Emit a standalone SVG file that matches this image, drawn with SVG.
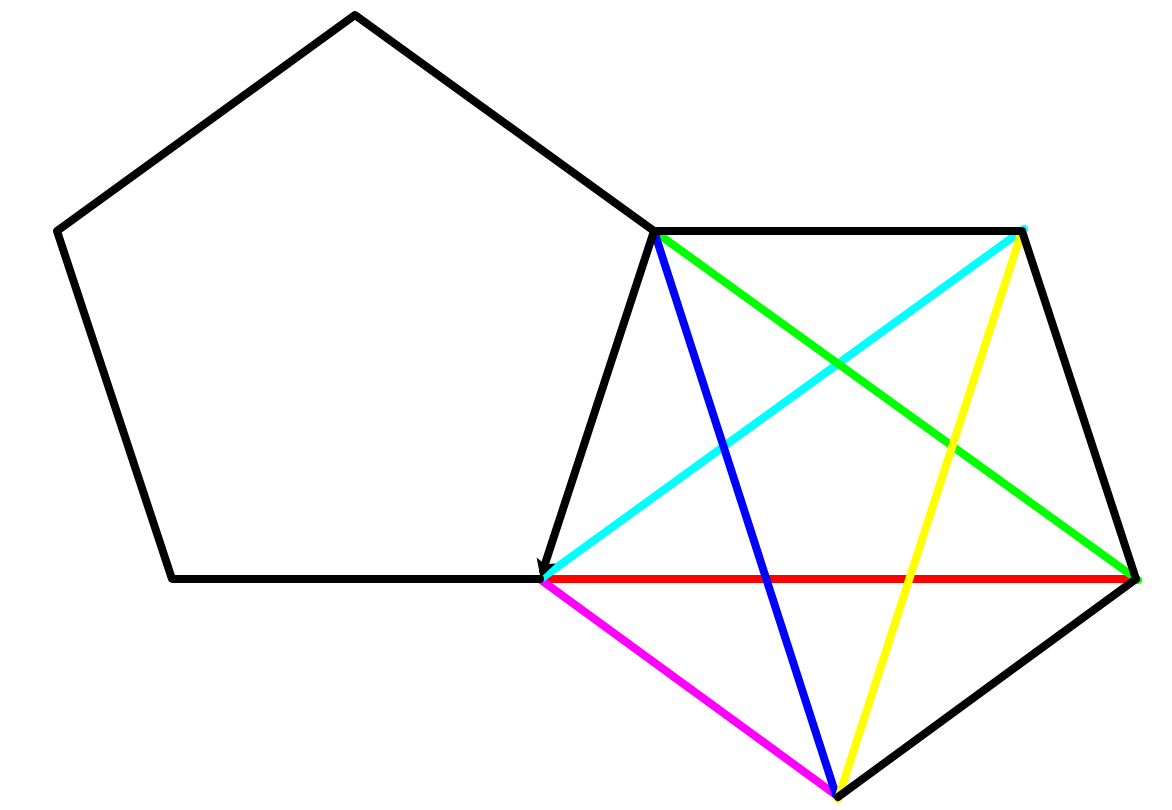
<svg xmlns="http://www.w3.org/2000/svg" width="1172" height="810" viewBox="0 0 1172 810">
<style>
.e{fill:none;stroke-width:8;stroke-linecap:round;stroke-linejoin:round}
.k{stroke:#000}
</style>
<defs>
<marker id="arr" markerUnits="userSpaceOnUse" orient="auto" markerWidth="30" markerHeight="30" refX="2" refY="0" viewBox="-20 -15 30 30" overflow="visible">
<path d="M10,0 L-8,-10 L-4,0 L-8,10 Z" fill="#000"/>
</marker>
</defs>
<rect width="1172" height="810" fill="#fff"/>
<g id="connectors">
<line id="red" class="e" stroke="#ff0000" x1="545" y1="579" x2="1132" y2="579"/>
<line id="magenta" class="e" stroke="#ff00ff" x1="541" y1="580" x2="836" y2="795"/>
<line id="cyan" class="e" stroke="#00ffff" x1="542" y1="578" x2="1024" y2="229"/>
<line id="green" class="e" stroke="#00ff00" x1="654" y1="231" x2="1138" y2="580"/>
<line id="blue" class="e" stroke="#0000ff" x1="654" y1="231" x2="836" y2="795"/>
<line id="yellow" class="e" stroke="#ffff00" x1="1021" y1="234" x2="838" y2="799"/>
</g>
<g id="left-pentagon">
<polyline class="e k" points="540,579 172,579 57,231 355,15 654,231"/>
</g>
<g id="right-pentagon">
<polyline class="e k" points="654,231 1022,231 1136,579 838,797"/>
</g>
<g id="arrow-edge">
<line class="e k" x1="654" y1="231" x2="543" y2="570" marker-end="url(#arr)"/>
</g>
</svg>
